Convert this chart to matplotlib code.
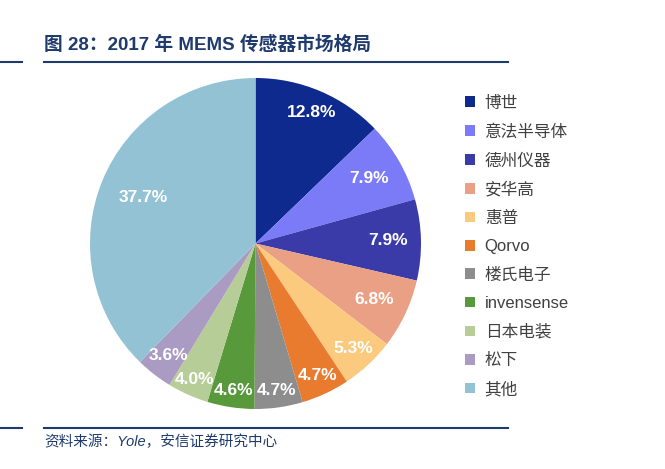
import numpy as np
import matplotlib
matplotlib.use("Agg")
from matplotlib import pyplot as plt
from matplotlib.patches import Patch
from matplotlib.lines import Line2D

plt.rcParams['font.family'] = ['Liberation Sans', 'Noto Sans CJK SC', 'DejaVu Sans']

# market share of MEMS sensor vendors, 2017 (%)
companies = ['博世', '意法半导体', '德州仪器', '安华高', '惠普', 'Qorvo',
             '楼氏电子', 'invensense', '日本电装', '松下', '其他']
shares = [12.8, 7.9, 7.9, 6.8, 5.3, 4.7, 4.7, 4.6, 4.0, 3.6, 37.7]
colours = ['#0E2A8E', '#7B7BF7', '#3A3BA8', '#EAA084', '#FBCA7F', '#E97B2F',
           '#8D8D8D', '#589A3B', '#B6CD98', '#A99BC2', '#93C2D5']
# how far from the centre each percentage sits (fraction of radius)
label_r = [0.86, 0.79, 0.80, 0.79, 0.87, 0.88, 0.90, 0.90, 0.90, 0.86, 0.73]

W, H = 665, 469
fig = plt.figure(figsize=(W / 100, H / 100), dpi=100)

# pie axes: centre (255.5, 243.5) px, radius 165.5 px
cx, cy, r = 255.5, 243.5, 165.5
ax = fig.add_axes([(cx - r) / W, 1 - (cy + r) / H, 2 * r / W, 2 * r / H])
wedges, _ = ax.pie(shares, colors=colours, startangle=90, counterclock=False,
                   radius=1.0, wedgeprops=dict(linewidth=0))
ax.set_xlim(-1, 1)
ax.set_ylim(-1, 1)
ax.set_aspect('equal')
ax.axis('off')

for w, val, d in zip(wedges, shares, label_r):
    ang = np.deg2rad((w.theta1 + w.theta2) / 2)
    ax.text(d * np.cos(ang), d * np.sin(ang), f'{val:.1f}%', ha='center', va='center',
            color='white', fontsize=12.5, fontweight='bold')

handles = [Patch(facecolor=c, edgecolor='none') for c in colours]
leg = fig.legend(handles, companies, loc='upper left',
                 bbox_to_anchor=(458 / W, 1 - 89 / H), frameon=False,
                 fontsize=12, handlelength=0.6, handleheight=0.6,
                 handletextpad=0.6, labelspacing=0.80, borderaxespad=0)
for t in leg.get_texts():
    t.set_color('#404040')

# title and rules
navy = '#1F3B6E'
fig.text(44 / W, 1 - 45 / H, '图 28：2017 年 MEMS 传感器市场格局', ha='left', va='center',
         fontsize=13.5, fontweight='bold', color=navy)
for y in (62, 428):
    yf = 1 - y / H
    fig.add_artist(Line2D([0, 22 / W], [yf, yf], color=navy, lw=1.5))
    fig.add_artist(Line2D([44 / W, 508 / W], [yf, yf], color=navy, lw=1.5))

fig.text(44 / W, 1 - 442 / H, '资料来源：Yole，安信证券研究中心', ha='left', va='center',
         fontsize=10.5, style='italic', color=navy)

fig.savefig('out.png', dpi=100)
